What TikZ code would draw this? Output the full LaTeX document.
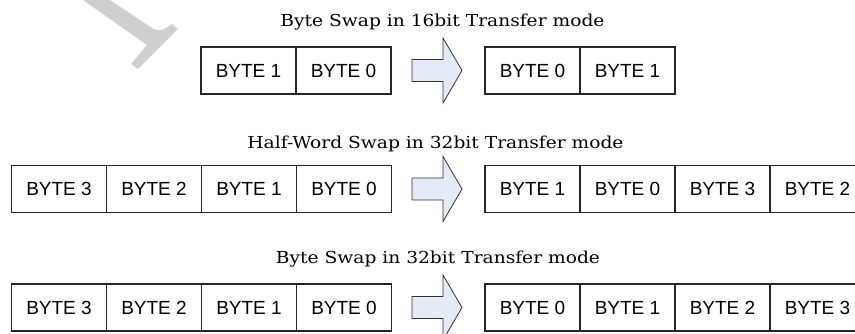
\documentclass[tikz,border=0pt]{standalone}
\usepackage{fontspec}
\newfontfamily\titlefont{DejaVu Serif}
\newfontfamily\cellfont{Liberation Sans}
\definecolor{arrowfill}{HTML}{E4EAF6}
\definecolor{markgray}{HTML}{CFCFCF}
\begin{document}
\begin{tikzpicture}[x=1pt,y=-1pt,
  cell/.style={draw=black!85, line width=1.1pt, minimum width=95pt, minimum height=47pt,
    inner sep=0pt, font=\cellfont\fontsize{19}{22}\selectfont},
  title/.style={anchor=base, inner sep=0pt, font=\titlefont\fontsize{16.5}{20}\selectfont},
  blockarrow/.style={draw=black!80, line width=0.8pt, fill=arrowfill, line join=miter}]
\useasboundingbox (0,0) rectangle (855,334);
\clip (0,0) rectangle (855,334);
% watermark fragment
\fill[markgray] (83,0) -- (110,0) -- (152,28) .. controls (160,33) and (167,28) .. (172,24)
  -- (178,29) -- (138,69) -- (131,64) -- (147,45) -- cycle;
% titles
\node[title] (t1) at (442.5,27) {\scalebox{1.13}[1]{Byte Swap in 16bit Transfer mode}};
\node[title] (t2) at (435.5,149) {\scalebox{1.13}[1]{Half-Word Swap in 32bit Transfer mode}};
\node[title] (t3) at (438,263) {\scalebox{1.13}[1]{Byte Swap in 32bit Transfer mode}};
% row 1
\node[cell] (a1) at (248.5,70.5) {BYTE 1};
\node[cell] (a0) at (343.5,70.5) {BYTE 0};
\node[cell] (b0) at (532.5,70.5) {BYTE 0};
\node[cell] (b1) at (627.5,70.5) {BYTE 1};
% row 2
\node[cell] (c3) at (59,189) {BYTE 3};
\node[cell] (c2) at (154,189) {BYTE 2};
\node[cell] (c1) at (249,189) {BYTE 1};
\node[cell] (c0) at (344,189) {BYTE 0};
\node[cell] (d1) at (532.5,189) {BYTE 1};
\node[cell] (d0) at (627.5,189) {BYTE 0};
\node[cell] (d3) at (722.5,189) {BYTE 3};
\node[cell] (d2) at (817.5,189) {BYTE 2};
% row 3
\node[cell] (e3) at (59,307.5) {BYTE 3};
\node[cell] (e2) at (154,307.5) {BYTE 2};
\node[cell] (e1) at (249,307.5) {BYTE 1};
\node[cell] (e0) at (344,307.5) {BYTE 0};
\node[cell] (f0) at (532.5,307.5) {BYTE 0};
\node[cell] (f1) at (627.5,307.5) {BYTE 1};
\node[cell] (f2) at (722.5,307.5) {BYTE 2};
\node[cell] (f3) at (817.5,307.5) {BYTE 3};
% block arrows
\foreach \cy in {70.5,189,307.5}{
  \draw[blockarrow] (412,\cy-11) -- (443,\cy-11) -- (443,\cy-32.5) -- (462,\cy)
    -- (443,\cy+32.5) -- (443,\cy+11) -- (412,\cy+11) -- cycle;
}
\end{tikzpicture}
\end{document}
